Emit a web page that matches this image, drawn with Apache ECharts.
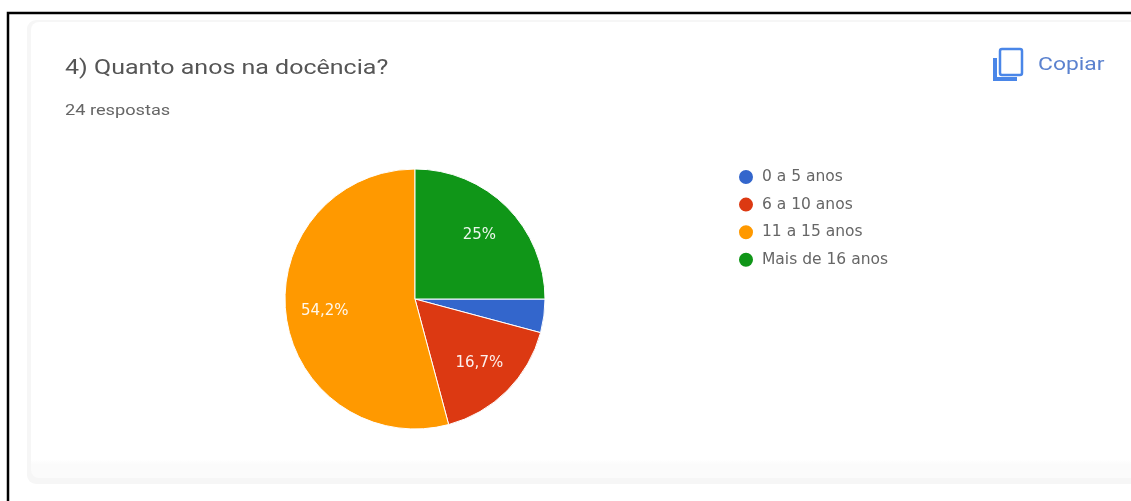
<!DOCTYPE html>
<html>
<head>
<meta charset="utf-8">
<style>html,body{margin:0;padding:0;background:#fff}#chart{width:1131px;height:501px}</style>
<script src="https://cdn.jsdelivr.net/npm/echarts@6/dist/echarts.min.js"></script>
</head>
<body>
<div id="chart"></div>
<script>
// Years of teaching, survey of 24 responses
const categories = ['0 a 5 anos', '6 a 10 anos', '11 a 15 anos', 'Mais de 16 anos'];
const responses = [1, 4, 13, 6];
const colors = ['#3366cc', '#dc3912', '#ff9900', '#109618'];
const heading = '4) Quanto anos na docência?';
const subheading = '24 respostas';
const copyLabel = 'Copiar';

const total = responses.reduce((a, b) => a + b, 0);
const pieData = categories.map((name, i) => ({
  name, value: responses[i], itemStyle: { color: colors[i] }
}));

// Percent text with a decimal comma; the thinnest slice stays unlabelled
function percentText(p) {
  const share = p.value / total * 100;
  if (share < 5) return '';
  return share.toFixed(1).replace(/\.0$/, '').replace('.', ',') + '%';
}

const wideFont = '"DejaVu Sans"';
const chart = echarts.init(document.getElementById('chart'), null, { renderer: 'canvas' });
chart.setOption({
  animation: false,
  backgroundColor: '#fff',
  legend: {
    orient: 'vertical', left: 737, top: 168, padding: 0,
    itemWidth: 16, itemHeight: 16, itemGap: 9.6, icon: 'circle',
    selectedMode: false,
    textStyle: { color: '#666', fontFamily: wideFont, fontSize: 15.5, padding: [0, 0, 0, 3] },
    data: categories
  },
  graphic: [
    // page frame
    { type: 'rect', shape: { x: 8, y: 13, width: 1200, height: 600 }, style: { fill: 'none', stroke: '#000', lineWidth: 2.5 }, z: 10 },
    // response card: soft outer edge and a faintly shaded body
    { type: 'rect', z: -2, shape: { x: 27, y: 20, width: 1200, height: 464, r: 9 }, style: { fill: '#f6f6f6' } },
    { type: 'rect', z: -1, shape: { x: 31, y: 22, width: 1200, height: 456, r: 8 },
      style: { fill: new echarts.graphic.LinearGradient(0, 0, 0, 1, [
        { offset: 0, color: '#ffffff' }, { offset: 0.96, color: '#ffffff' }, { offset: 0.97, color: '#fbfbfb' }, { offset: 1, color: '#fbfbfb' }
      ]) } },
    { type: 'text', x: 65, y: 69, scaleX: 1.25, style: { text: heading, font: '20px Roboto', fill: '#555', verticalAlign: 'middle' } },
    { type: 'text', x: 65, y: 111, scaleX: 1.3, style: { text: subheading, font: '14px Roboto', fill: '#666', verticalAlign: 'middle' } },
    // copy button
    { type: 'rect', shape: { x: 1000, y: 49, width: 22, height: 26, r: 2 }, style: { fill: 'none', stroke: '#4a86e8', lineWidth: 2.5 } },
    { type: 'polyline', shape: { points: [[995, 58], [995, 79], [1017, 79]] }, style: { fill: 'none', stroke: '#4a86e8', lineWidth: 4 } },
    { type: 'text', x: 1038, y: 65, scaleX: 1.27, style: { text: copyLabel, font: '18px Roboto', fill: '#5b82cf', verticalAlign: 'middle' } }
  ],
  series: [
    {
      type: 'pie', center: [415, 299], radius: [0, 130], startAngle: 0, clockwise: true,
      silent: true, legendHoverLink: false,
      itemStyle: { borderColor: '#fff', borderWidth: 1 },
      label: { show: false }, labelLine: { show: false },
      data: pieData
    },
    {
      // transparent ring that places the percent labels further out than the default
      type: 'pie', center: [415, 299], radius: [46, 130], startAngle: 0, clockwise: true,
      silent: true, legendHoverLink: false,
      itemStyle: { color: 'transparent', borderWidth: 0 },
      label: { show: true, position: 'inside', formatter: percentText, color: 'rgba(255,255,255,0.92)', fontFamily: wideFont, fontSize: 15 },
      labelLine: { show: false },
      data: categories.map((name, i) => ({ name, value: responses[i], itemStyle: { color: 'transparent' } }))
    }
  ]
});
</script>
</body>
</html>
